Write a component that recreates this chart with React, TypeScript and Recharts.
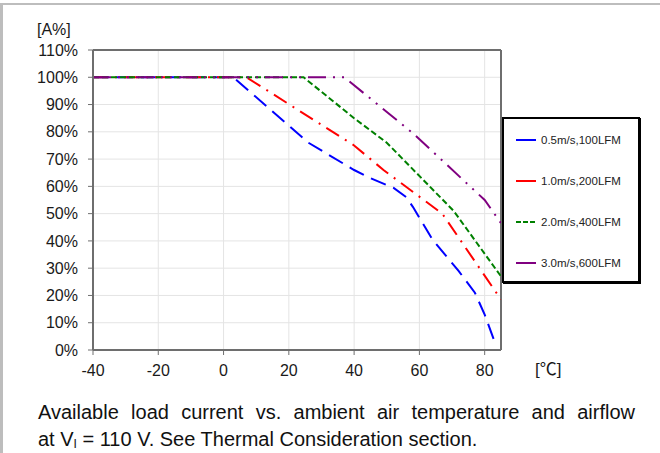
import React from 'react';
import {
  LineChart,
  Line,
  XAxis,
  YAxis,
  CartesianGrid,
  ReferenceLine
} from 'recharts';

// Derating curves: temperature [°C] vs available load current [%]
const blueData = [
  { x: -40, y: 100 }, { x: 3, y: 100 }, { x: 26, y: 76 }, { x: 40, y: 66 },
  { x: 45, y: 63 }, { x: 52, y: 59.5 }, { x: 56, y: 56 }, { x: 58, y: 52.5 },
  { x: 64, y: 40.5 }, { x: 72, y: 29 }, { x: 77, y: 21 }, { x: 80, y: 13 },
  { x: 83.5, y: 1.5 }
];
const redData = [
  { x: -40, y: 100 }, { x: 7, y: 100 }, { x: 40, y: 75 }, { x: 49, y: 66 },
  { x: 67, y: 50 }, { x: 85, y: 18.5 }
];
const greenData = [
  { x: -40, y: 100 }, { x: 24.5, y: 100 }, { x: 40, y: 85 }, { x: 50, y: 76 },
  { x: 70.5, y: 51 }, { x: 85, y: 27 }
];
const purpleData = [
  { x: -40, y: 100 }, { x: 37, y: 100 }, { x: 58, y: 79.5 }, { x: 80, y: 55 },
  { x: 85, y: 46.5 }
];

const xTicks = [-40, -20, 0, 20, 40, 60, 80];
const yTicks = [0, 10, 20, 30, 40, 50, 60, 70, 80, 90, 100, 110];

const series = [
  { name: '0.5m/s,100LFM', color: '#0000ff', data: blueData, dash: '16 8', legendDash: undefined },
  { name: '1.0m/s,200LFM', color: '#ff0000', data: redData, dash: '15 7 2 7', legendDash: undefined },
  { name: '2.0m/s,400LFM', color: '#008000', data: greenData, dash: '6 3', legendDash: '5 2' },
  { name: '3.0m/s,600LFM', color: '#800080', data: purpleData, dash: '18 7 2 7 2 7', legendDash: undefined }
];

const FONT = '"Liberation Sans", Arial, sans-serif';
const AXIS = '#6e6e6e';

export default function App() {
  return (
    <div style={{ position: 'absolute', left: 0, top: 0, width: 660, height: 453, background: '#fff', fontFamily: FONT }}>
      {/* frame */}
      <div style={{ position: 'absolute', left: 0, top: 3, width: 660, height: 450, borderTop: '2px solid #bdbdbd', borderLeft: '3px solid #bdbdbd', boxSizing: 'border-box' }} />

      <LineChart width={660} height={453} margin={{ top: 50, right: 159, bottom: 83, left: 33 }}>
        <CartesianGrid stroke="#e4e4e4" strokeWidth={1} />
        <XAxis
          type="number"
          dataKey="x"
          domain={[-40, 85]}
          ticks={xTicks}
          height={20}
          tickSize={5}
          tickMargin={10}
          axisLine={{ stroke: AXIS, strokeWidth: 2 }}
          tickLine={{ stroke: AXIS }}
          tick={{ fontSize: 16, fill: '#1a1a1a', fontFamily: FONT }}
          allowDataOverflow
        />
        <YAxis
          type="number"
          domain={[0, 110]}
          ticks={yTicks}
          width={60}
          tickSize={5}
          tickMargin={10}
          tickFormatter={(v: number) => `${v}%`}
          axisLine={{ stroke: AXIS, strokeWidth: 2 }}
          tickLine={{ stroke: AXIS }}
          tick={{ fontSize: 16, fill: '#1a1a1a', fontFamily: FONT }}
          allowDataOverflow
        />
        <ReferenceLine y={110} stroke={AXIS} strokeWidth={2} />
        <ReferenceLine x={85} stroke={AXIS} strokeWidth={2} />
        {series.map(s => (
          <Line
            key={s.name}
            data={s.data}
            dataKey="y"
            name={s.name}
            type="linear"
            stroke={s.color}
            strokeWidth={2}
            strokeDasharray={s.dash}
            dot={false}
            activeDot={false}
            isAnimationActive={false}
          />
        ))}
      </LineChart>

      {/* axis units */}
      <svg width={660} height={453} style={{ position: 'absolute', left: 0, top: 0, pointerEvents: 'none' }}>
        <text x={37} y={35} fontSize={16} fill="#1a1a1a" fontFamily={FONT}>[A%]</text>
        <text x={535} y={375} fontSize={17} fill="#1a1a1a" fontFamily={'"Liberation Sans", "Noto Sans CJK SC", sans-serif'}>[℃]</text>
      </svg>

      {/* legend */}
      <div style={{ position: 'absolute', left: 502, top: 117, width: 138, height: 166, border: '2px solid #000', boxShadow: '1px 1px 0 #000', boxSizing: 'border-box', background: '#fff' }}>
        {series.map((s, i) => (
          <div key={s.name} style={{ position: 'absolute', left: 12, top: 14 + i * 41, height: 14, display: 'flex', alignItems: 'center' }}>
            <svg width={20} height={6} style={{ marginRight: 5 }}>
              <line x1={0} y1={3} x2={20} y2={3} stroke={s.color} strokeWidth={2} strokeDasharray={s.legendDash} />
            </svg>
            <span style={{ fontSize: 11.5, color: '#222', whiteSpace: 'nowrap' }}>{s.name}</span>
          </div>
        ))}
      </div>

      {/* caption */}
      <div style={{ position: 'absolute', left: 38, top: 399, width: 597, fontSize: 20, lineHeight: '27px', color: '#111' }}>
        <div style={{ textAlign: 'justify', textAlignLast: 'justify', whiteSpace: 'nowrap' as const }}>
          Available load current vs. ambient air temperature and airflow
        </div>
        <div>
          at V<span style={{ fontSize: 12, position: 'relative', top: 2 }}>I</span> = 110 V. See Thermal Consideration section.
        </div>
      </div>
    </div>
  );
}
